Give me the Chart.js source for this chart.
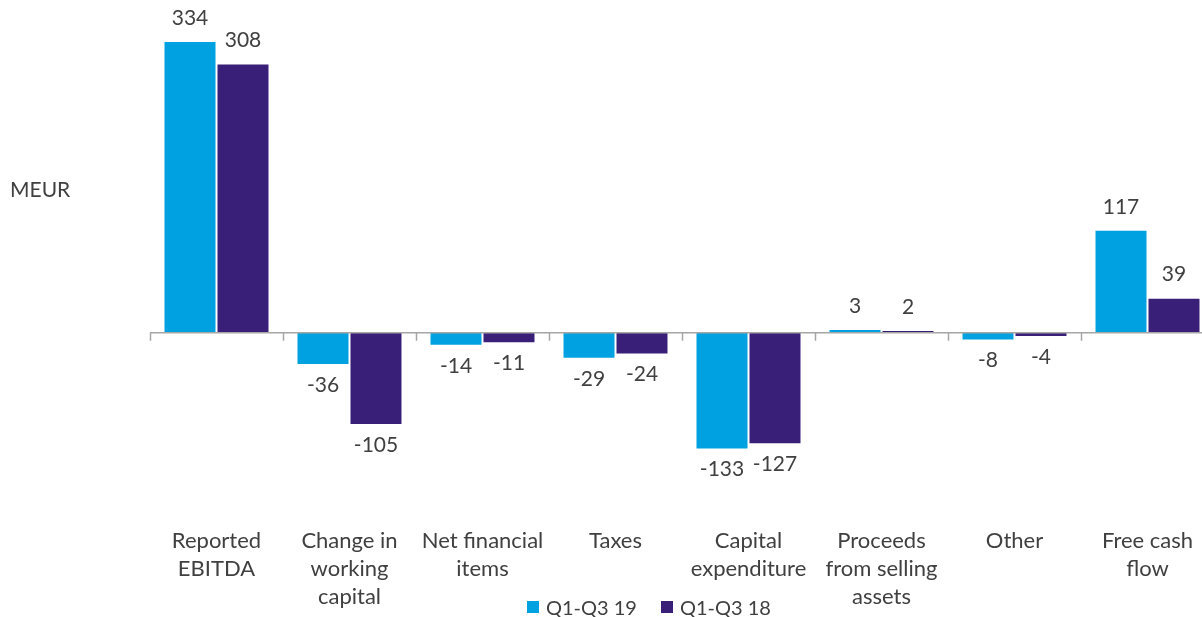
<!DOCTYPE html>
<html>
<head>
<meta charset="utf-8">
<script src="https://cdn.jsdelivr.net/npm/chart.js@4.4.1/dist/chart.umd.min.js"></script>
<style>
  html, body { margin: 0; padding: 0; background: #fff; overflow: hidden; width: 1202px; height: 617px; }
  #wrap { position: absolute; left: 0; top: 0; width: 1230px; height: 617px; }
  #unit { position: absolute; left: 10px; top: 176px; font: 21px Lato, sans-serif; color: #404040; }
  #legend { position: absolute; top: 593px; left: 527px; font: 20px Lato, sans-serif; color: #404040; white-space: nowrap; }
  #legend span.item { display: inline-flex; align-items: center; margin-right: 24px; }
  #legend i { display: inline-block; width: 12px; height: 12px; margin-right: 7px; }
</style>
</head>
<body>
<div id="wrap"><canvas id="c" width="1230" height="617"></canvas></div>
<div id="unit">MEUR</div>
<div id="legend"></div>
<script>
const categories = [
  ["Reported", "EBITDA"],
  ["Change in", "working", "capital"],
  ["Net financial", "items"],
  ["Taxes"],
  ["Capital", "expenditure"],
  ["Proceeds", "from selling", "assets"],
  ["Other"],
  ["Free cash", "flow"]
];
const seriesNames = ["Q1-Q3 19", "Q1-Q3 18"];
const q1q3_19 = [334, -36, -14, -29, -133, 3, -8, 117];
const q1q3_18 = [308, -105, -11, -24, -127, 2, -4, 39];
const colors = ["#00A1E0", "#3A1F78"];
const textColor = "#404040";
const axisColor = "#A6A6A6";
const fontFamily = "Lato, 'Open Sans', sans-serif";

const legend = document.getElementById('legend');
seriesNames.forEach((n, i) => {
  const s = document.createElement('span');
  s.className = 'item';
  s.innerHTML = '<i style="background:' + colors[i] + '"></i>' + n;
  legend.appendChild(s);
});

const valueLabels = {
  id: 'valueLabels',
  afterDatasetsDraw(chart) {
    const ctx = chart.ctx;
    ctx.save();
    ctx.font = "21px " + fontFamily;
    ctx.fillStyle = textColor;
    ctx.textAlign = 'center';
    ctx.textBaseline = 'middle';
    chart.data.datasets.forEach((ds, di) => {
      const meta = chart.getDatasetMeta(di);
      meta.data.forEach((bar, i) => {
        const v = ds.data[i];
        const y = v >= 0 ? bar.y - 24 : bar.y + 21;
        ctx.fillText(String(v), bar.x, y);
      });
    });
    ctx.restore();
  }
};

// zero axis line with category boundary tick marks, positioned from the chart's scales
const zeroAxis = {
  id: 'zeroAxis',
  afterDatasetsDraw(chart) {
    const {ctx, chartArea, scales: {x, y}} = chart;
    const y0 = y.getPixelForValue(0);
    const n = chart.data.labels.length;
    const half = (x.getPixelForValue(1) - x.getPixelForValue(0)) / 2;
    ctx.save();
    ctx.strokeStyle = axisColor;
    ctx.lineWidth = 1.5;
    ctx.beginPath();
    ctx.moveTo(chartArea.left, y0);
    ctx.lineTo(chartArea.right, y0);
    for (let i = 0; i <= n; i++) {
      const bx = Math.round((i < n ? x.getPixelForValue(i) - half : x.getPixelForValue(n - 1) + half)) + 0.5;
      ctx.moveTo(bx, y0);
      ctx.lineTo(bx, y0 + 8);
    }
    ctx.stroke();
    ctx.restore();
  }
};

new Chart(document.getElementById('c'), {
  type: 'bar',
  data: {
    labels: categories,
    datasets: [
      { label: seriesNames[0], data: q1q3_19, backgroundColor: colors[0] },
      { label: seriesNames[1], data: q1q3_18, backgroundColor: colors[1] }
    ]
  },
  options: {
    responsive: false,
    animation: false,
    devicePixelRatio: 1,
    categoryPercentage: 0.797,
    barPercentage: 0.962,
    layout: { padding: { left: 150, right: 16, top: 28, bottom: 6 } },
    plugins: { legend: { display: false }, tooltip: { enabled: false } },
    scales: {
      y: { display: false, min: -150, max: 350 },
      x: {
        offset: true,
        grid: { display: false, drawTicks: true, tickLength: 64 },
        border: { display: false },
        ticks: { color: textColor, font: { family: fontFamily, size: 22, lineHeight: 1.27 }, padding: 0, maxRotation: 0, autoSkip: false }
      }
    }
  },
  plugins: [valueLabels, zeroAxis]
});
</script>
</body>
</html>
